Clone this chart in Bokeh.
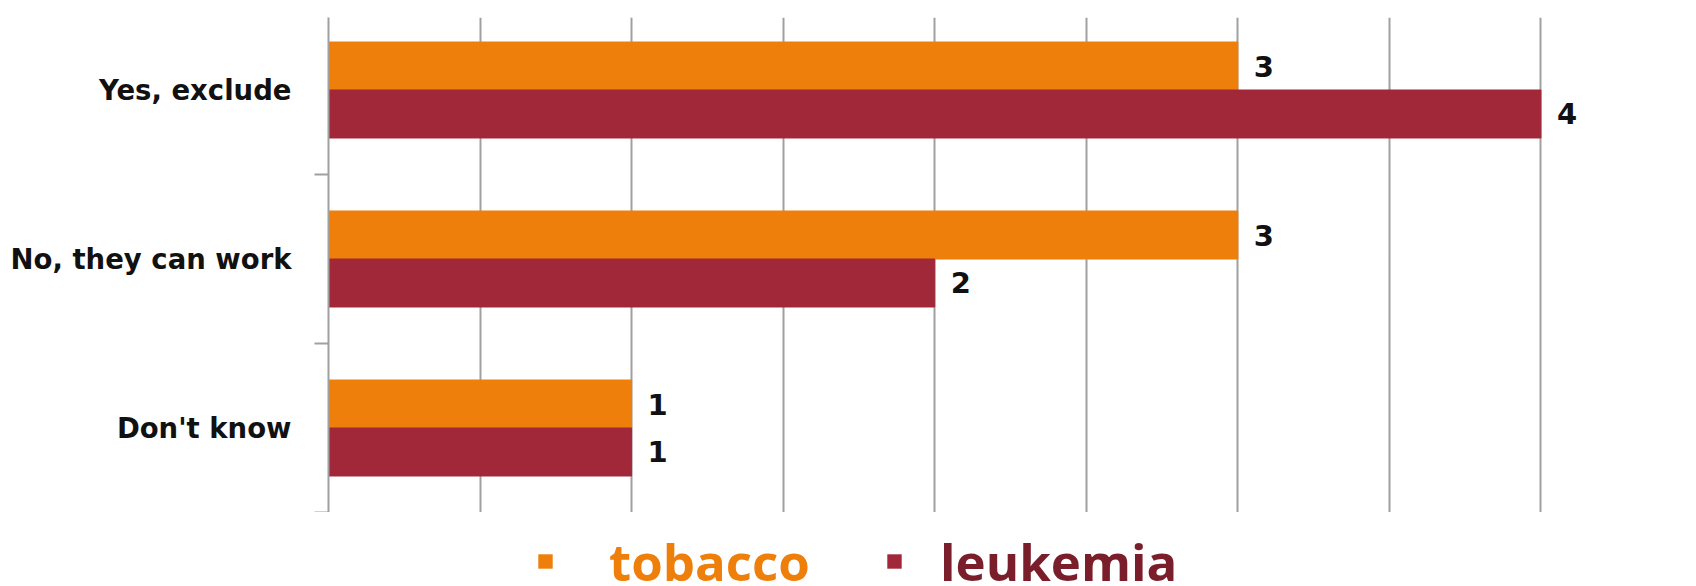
from bokeh.plotting import figure
from bokeh.models import ColumnDataSource, Range1d, FixedTicker, Legend, LegendItem, Grid
from bokeh.layouts import column
from bokeh.transform import dodge
from bokeh.core.properties import value
from bokeh.embed import file_html
from bokeh.resources import INLINE

# ---- data ----
categories = ["Yes, exclude", "No, they can work", "Don't know"]
tobacco = [3, 3, 1]
leukemia = [4, 2, 1]
series_names = ["tobacco", "leukemia"]
bar_colors = ["#EF7F0B", "#A12838"]
legend_text_colors = ["#EF7F0B", "#7A1E2B"]
grid_ticks = [0, 0.5, 1, 1.5, 2, 2.5, 3, 3.5, 4, 4.5]

n = len(categories)
ypos = [n - 1 - i for i in range(n)]
boundaries = [y - 0.5 for y in ypos]
bar_h = 0.284

src = ColumnDataSource(dict(
    y=ypos,
    tobacco=tobacco,
    leukemia=leukemia,
    tobacco_txt=[str(v) for v in tobacco],
    leukemia_txt=[str(v) for v in leukemia],
))

p = figure(width=1696, height=512, output_backend="svg", toolbar_location=None,
           x_range=Range1d(0, grid_ticks[-1]), y_range=Range1d(-0.5, n - 0.5 - 0.071),
           x_axis_location=None,
           min_border_left=328, min_border_right=4, min_border_top=17, min_border_bottom=0)
p.outline_line_color = None
p.ygrid.visible = False
p.add_layout(Grid(dimension=0, ticker=FixedTicker(ticks=grid_ticks),
                  grid_line_color="#A0A0A0", grid_line_width=2), "center")

ax = p.yaxis[0]
ax.ticker = FixedTicker(ticks=ypos, minor_ticks=boundaries)
ax.major_label_overrides = {y: c for y, c in zip(ypos, categories)}
ax.major_tick_out = 0
ax.major_tick_in = 0
ax.minor_tick_out = 14
ax.minor_tick_in = 0
ax.minor_tick_line_color = "#A0A0A0"
ax.minor_tick_line_width = 2
ax.axis_line_color = "#A0A0A0"
ax.axis_line_width = 2
ax.major_label_standoff = 23
ax.major_label_text_font = "DejaVu Sans"
ax.major_label_text_font_style = "bold"
ax.major_label_text_font_size = "27.5px"
ax.major_label_text_color = "#111111"

fields = ["tobacco", "leukemia"]
offsets = [bar_h / 2, -bar_h / 2]
for f, off, col in zip(fields, offsets, bar_colors):
    p.hbar(y=dodge("y", off), right=f, left=0, height=bar_h, source=src,
           fill_color=col, line_color=col, line_width=1)
    p.text(x=f, y=dodge("y", off), text=f + "_txt", source=src, x_offset=16,
           text_align="left", text_baseline="middle",
           text_font=value("DejaVu Sans"), text_font_style="bold",
           text_font_size="29px", text_color="#111111")

# ---- legend strip ----
p2 = figure(width=1696, height=74, output_backend="svg", toolbar_location=None,
            x_range=Range1d(0, 1), y_range=Range1d(0, 1),
            x_axis_location=None, y_axis_location=None,
            min_border=0, min_border_left=0, min_border_right=0,
            min_border_top=0, min_border_bottom=0)
p2.outline_line_color = None
p2.grid.visible = False

frame_left = 328  # column aligns the legend strip's frame with the chart frame
leg_locs = [(536 - frame_left, -10), (885 - frame_left, -10)]
standoffs = [55, 37]
for name, bc, tc, loc, so in zip(series_names, bar_colors, legend_text_colors, leg_locs, standoffs):
    # zero-size dummy renderer; only its legend glyph is shown
    r = p2.hbar(y=[0.5], right=[0], left=[0], height=0, fill_color=bc, line_color=None)
    leg = Legend(items=[LegendItem(label=name, renderers=[r])], location=loc,
                 glyph_width=18, glyph_height=18, label_standoff=so,
                 label_text_font="Open Sans", label_text_font_style="bold",
                 label_text_font_size="51px", label_text_color=tc,
                 padding=0, margin=0, border_line_color=None,
                 background_fill_alpha=0)
    p2.add_layout(leg, "center")

layout = column(p, p2, spacing=0)
open("out.html", "w").write(file_html(layout, INLINE))
